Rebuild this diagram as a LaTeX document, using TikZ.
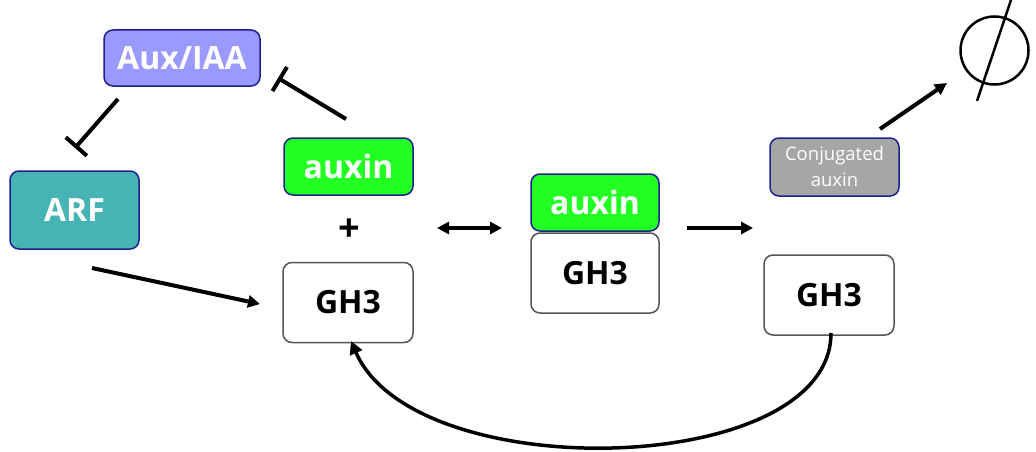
\documentclass[tikz,border=0pt]{standalone}
\usepackage{fontspec}
\setmainfont{Open Sans}
\usetikzlibrary{arrows.meta}
\definecolor{iaafill}{HTML}{9999FF}
\definecolor{arffill}{HTML}{46B3B5}
\definecolor{auxfill}{HTML}{22FF22}
\definecolor{conjfill}{HTML}{A6A6A6}
\definecolor{navyedge}{HTML}{1F1F8F}
\definecolor{grayedge}{HTML}{555555}
\tikzset{
  x=1pt, y=-1pt,
  boxbase/.style={rounded corners=9pt, inner sep=0pt, align=center, line width=1.5pt},
  colbox/.style={boxbase, draw=navyedge, text=white, font=\fontsize{32}{34}\selectfont\bfseries},
  ghbox/.style={boxbase, draw=grayedge, fill=white, text=black, minimum width=130pt, minimum height=80pt, font=\fontsize{32}{34}\selectfont\bfseries},
  conn/.style={line width=4pt, black},
  inhib/.style={conn, -{Bar[width=28pt, line width=4pt]}},
  act/.style={conn, -{Triangle[length=12pt, width=12pt]}},
}
\begin{document}
\begin{tikzpicture}
\useasboundingbox (0,0) rectangle (1036,452);
% nodes
\node[colbox, fill=iaafill, minimum width=156pt, minimum height=56pt] (auxiaa) at (182,58) {Aux/IAA};
\node[colbox, fill=arffill, minimum width=129pt, minimum height=78pt] (arf) at (74.5,210) {ARF};
\node[colbox, fill=auxfill, minimum width=129pt, minimum height=57pt] (auxA) at (348.5,166.5) {auxin};
\node[font=\fontsize{38}{40}\selectfont\bfseries] (plus) at (349,230) {+};
\node[ghbox] (ghA) at (348,302.5) {GH3};
\node[colbox, fill=auxfill, minimum width=128pt, minimum height=57pt] (auxB) at (595,202.5) {auxin};
\node[ghbox, minimum width=128pt] (ghB) at (595,273) {GH3};
\node[boxbase, draw=navyedge, fill=conjfill, text=white, minimum width=129pt, minimum height=58pt, font=\fontsize{18.5}{26}\selectfont] (conj) at (834.5,167) {Conjugated\\auxin};
\node[ghbox] (ghC) at (829,295) {GH3};
% empty set
\node[circle, draw, line width=2.5pt, minimum size=68pt, inner sep=0pt] (empty) at (994.5,50.5) {};
\draw[line width=2.5pt] (1011,0) -- (977,101);
% coordinates for connector ends
\coordinate (iaaS) at (118,99);
\coordinate (arfN) at (75,148);
\coordinate (auxNW) at (346,119);
\coordinate (iaaE) at (278,78);
\coordinate (arfSE) at (92,268);
\coordinate (ghAW) at (260,304);
\coordinate (dblL) at (437,228);
\coordinate (dblR) at (502,228);
\coordinate (rgtL) at (687,228);
\coordinate (rgtR) at (753,228);
\coordinate (conjNE) at (880,129);
\coordinate (emptyW) at (947,83);
\coordinate (ghCS) at (831,333);
\coordinate (ghAS) at (351,341);
% connectors
\draw[inhib] (iaaS) -- (arfN);
\draw[inhib] (auxNW) -- (iaaE);
\draw[act] (arfSE) -- (ghAW);
\draw[conn, {Triangle[length=12pt, width=12pt]}-{Triangle[length=12pt, width=12pt]}] (dblL) -- (dblR);
\draw[act] (rgtL) -- (rgtR);
\draw[act] (conjNE) -- (emptyW);
\draw[line width=3.5pt, -{Triangle[length=13pt, width=13pt]}] (ghCS) .. controls (831,478) and (415,488) .. (ghAS);
\end{tikzpicture}
\end{document}
